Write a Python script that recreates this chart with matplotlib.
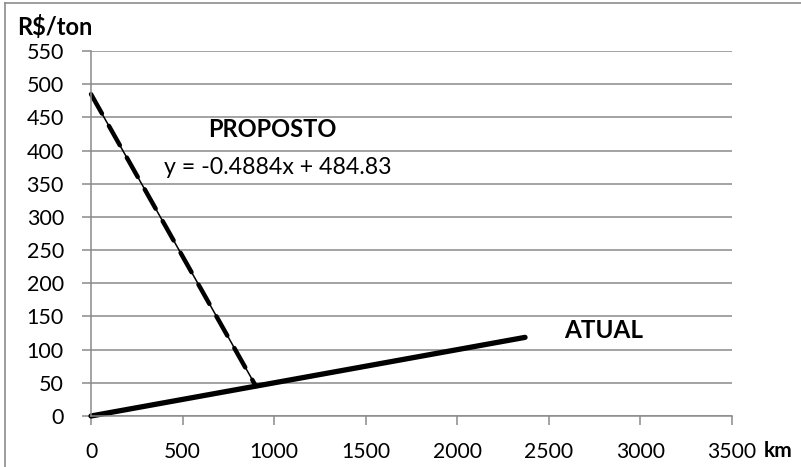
import matplotlib.pyplot as plt
import numpy as np
from matplotlib.lines import Line2D

plt.rcParams['font.family'] = ['Lato', 'DejaVu Sans']

# custo por distancia
atual_km = [0, 2370]
atual_custo = [0, 118.5]

proposto_km = [0, 900]
proposto_custo = [485, 45]

# linha de tendencia do proposto
trend_a = -0.4884
trend_b = 484.83

x_ticks = [0, 500, 1000, 1500, 2000, 2500, 3000, 3500]
y_ticks = [0, 50, 100, 150, 200, 250, 300, 350, 400, 450, 500, 550]

fig = plt.figure(figsize=(8.01, 4.67), dpi=100)
ax = fig.add_axes([91 / 801, 1 - 416 / 467, (732 - 91) / 801, (416 - 51) / 467])

grid_color = '#8a8a8a'

ax.set_xlim(0, 3500)
ax.set_ylim(0, 550)
ax.set_xticks(x_ticks)
ax.set_yticks(y_ticks)
ax.yaxis.grid(True, color=grid_color, linewidth=1.1)
ax.set_axisbelow(True)

for s in ['top', 'right']:
    ax.spines[s].set_visible(False)
for s in ['left', 'bottom']:
    ax.spines[s].set_color(grid_color)
    ax.spines[s].set_linewidth(1.1)

ax.tick_params(axis='x', length=6.5, width=1.1, color=grid_color, pad=12, labelsize=15.2)
ax.tick_params(axis='y', length=6.5, width=1.1, color=grid_color, pad=13, labelsize=15.5)

# ATUAL
ax.plot(atual_km, atual_custo, color='black', linewidth=3.8, solid_capstyle='round', clip_on=False)

# PROPOSTO: serie tracejada + tendencia
ln, = ax.plot(proposto_km, proposto_custo, color='black', linewidth=3.2,
              dash_capstyle='round', clip_on=False)
ln.set_dashes((5.0, 3.2))
xt = np.array([0, 900.5])
ax.plot(xt, trend_a * xt + trend_b, color='black', linewidth=1.1, clip_on=False)

ax.text(991, 432, 'PROPOSTO', fontsize=17, fontweight='bold', ha='center', va='center')
ax.text(400, 374, 'y = -0.4884x + 484.83', fontsize=16.7, ha='left', va='center')
ax.text(2801, 129, 'ATUAL', fontsize=17.5, fontweight='bold', ha='center', va='center')

fig.text(17 / 801, 1 - 27 / 467, 'R$/ton', fontsize=17, fontweight='bold', ha='left', va='center')
fig.text(764 / 801, 1 - 451 / 467, 'km', fontsize=15, fontweight='bold', ha='left', va='center')

# moldura
fig.add_artist(Line2D([5 / 801, 1], [1 - 3 / 467, 1 - 3 / 467], color='#8c8c8c', linewidth=1.2))
fig.add_artist(Line2D([5 / 801, 5 / 801], [0, 1 - 3 / 467], color='#8c8c8c', linewidth=1.2))

fig.savefig('out.png', dpi=100)
